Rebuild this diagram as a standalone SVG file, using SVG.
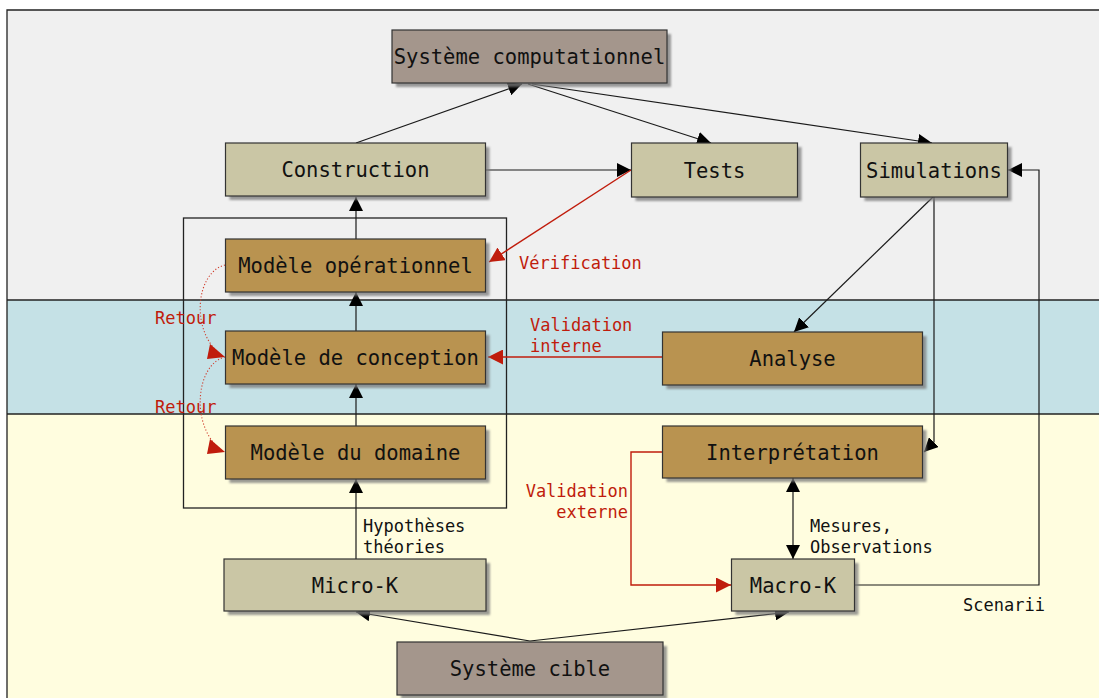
<svg xmlns="http://www.w3.org/2000/svg" width="1099" height="698" viewBox="0 0 1099 698">
  <defs>
    <marker id="ah" viewBox="0 0 12 12" refX="12" refY="6" markerWidth="14" markerHeight="14" markerUnits="userSpaceOnUse" orient="auto">
      <path d="M0,0 L12,6 L0,12 z" fill="#000"/>
    </marker>
    <marker id="ahs" viewBox="0 0 12 12" refX="0" refY="6" markerWidth="14" markerHeight="14" markerUnits="userSpaceOnUse" orient="auto">
      <path d="M12,0 L0,6 L12,12 z" fill="#000"/>
    </marker>
    <marker id="ar" viewBox="0 0 12 12" refX="12" refY="6" markerWidth="15" markerHeight="15" markerUnits="userSpaceOnUse" orient="auto">
      <path d="M0,0 L12,6 L0,12 z" fill="#c01c0c"/>
    </marker>
    <filter id="sh" x="-10%" y="-10%" width="130%" height="140%">
      <feGaussianBlur stdDeviation="0.8"/>
    </filter>
  </defs>
  <style>
    .band { stroke: none; }
    .box { stroke: #333; stroke-width: 1.2; }
    .shadow { fill: #7a7a7a; opacity: 0.75; filter: url(#sh); }
    .tan { fill: #cac6a5; }
    .brown { fill: #b99350; }
    .grey { fill: #a4968c; }
    .label { font-family: "DejaVu Sans Mono", "Liberation Mono", monospace; font-size: 20.5px; fill: #111; text-anchor: middle; }
    .note { font-family: "DejaVu Sans Mono", "Liberation Mono", monospace; font-size: 17px; fill: #111; }
    .red { fill: #c01c0c; }
    .edge { fill: none; stroke: #1a1a1a; stroke-width: 1.2; }
    .redge { fill: none; stroke: #c01c0c; stroke-width: 1.4; }
    .dot { fill: none; stroke: #d04030; stroke-width: 1.1; stroke-dasharray: 1.2 2; }
  </style>

  <!-- page -->
  <rect width="1099" height="698" fill="#ffffff"/>

  <!-- swimlane bands -->
  <rect class="band" x="7" y="10" width="1092" height="290" fill="#f0f0f0"/>
  <rect class="band" x="7" y="300" width="1092" height="114" fill="#c5e1e6"/>
  <rect class="band" x="7" y="414" width="1092" height="284" fill="#fffddf"/>
  <g stroke="#222" stroke-width="1.3" fill="none">
    <path d="M7,698 V10 H1099"/>
    <line x1="7" y1="300" x2="1099" y2="300"/>
    <line x1="7" y1="414" x2="1099" y2="414"/>
  </g>

  <!-- grouping frame around the three models -->
  <rect x="183.5" y="218" width="323" height="290" fill="none" stroke="#222" stroke-width="1.3"/>

  <!-- connectors -->
  <g id="connectors">
    <line class="edge" x1="356" y1="143" x2="522" y2="84" marker-end="url(#ah)"/>
    <line class="edge" x1="528" y1="84" x2="711" y2="143" marker-end="url(#ah)"/>
    <line class="edge" x1="532" y1="84" x2="932" y2="143" marker-end="url(#ah)"/>
    <line class="edge" x1="486" y1="170" x2="631" y2="170" marker-end="url(#ah)"/>
    <line class="redge" x1="631" y1="170" x2="489" y2="262" marker-end="url(#ar)"/>
    <line class="edge" x1="356" y1="239" x2="356" y2="197" marker-end="url(#ah)"/>
    <line class="edge" x1="356" y1="331" x2="356" y2="292" marker-end="url(#ah)"/>
    <line class="edge" x1="356" y1="426" x2="356" y2="384" marker-end="url(#ah)"/>
    <line class="edge" x1="356" y1="559" x2="356" y2="479" marker-end="url(#ah)"/>
    <line class="edge" x1="933" y1="197" x2="794" y2="332" marker-end="url(#ah)"/>
    <path class="edge" d="M934,197 V442 L924,452" marker-end="url(#ah)"/>
    <line class="redge" x1="662" y1="357" x2="488" y2="357" marker-end="url(#ar)"/>
    <line class="edge" x1="793" y1="478" x2="793" y2="559" marker-start="url(#ahs)" marker-end="url(#ah)"/>
    <path class="redge" d="M662,452 H631 V585 H731" marker-end="url(#ar)"/>
    <path class="edge" d="M855,585 H1039 V170 H1008" marker-end="url(#ah)"/>
    <line class="edge" x1="530" y1="641" x2="356" y2="612" marker-end="url(#ah)"/>
    <line class="edge" x1="530" y1="641" x2="789" y2="612" marker-end="url(#ah)"/>
    <path class="dot" d="M225,265 C196,272 190,330 220,354"/>
    <path d="M210,344 L225,357 L207,359 z" class="red"/>
    <path class="dot" d="M225,357 C196,364 190,425 220,449"/>
    <path d="M210,439 L225,452 L207,454 z" class="red"/>
  </g>

  <!-- connector labels -->
  <g id="edge-labels">
    <text class="note red" x="519" y="269">Vérification</text>
    <text class="note red" x="155" y="324">Retour</text>
    <text class="note red" x="155" y="413">Retour</text>
    <text class="note red" x="530" y="331">Validation</text>
    <text class="note red" x="530" y="352">interne</text>
    <text class="note red" x="628" y="497" text-anchor="end">Validation</text>
    <text class="note red" x="628" y="518" text-anchor="end">externe</text>
    <text class="note" x="363" y="532">Hypothèses</text>
    <text class="note" x="363" y="553">théories</text>
    <text class="note" x="810" y="532">Mesures,</text>
    <text class="note" x="810" y="553">Observations</text>
    <text class="note" x="963" y="611">Scenarii</text>
  </g>

  <!-- nodes -->
  <g id="systeme-computationnel">
    <rect class="shadow" x="396" y="34" width="275" height="53"/>
    <rect class="box grey" x="392" y="30" width="275" height="53"/>
    <text class="label" x="529.5" y="64">Système computationnel</text>
  </g>
  <g id="construction">
    <rect class="shadow" x="229.5" y="147" width="260" height="53"/>
    <rect class="box tan" x="225.5" y="143" width="260" height="53"/>
    <text class="label" x="355.5" y="177">Construction</text>
  </g>
  <g id="tests">
    <rect class="shadow" x="635.5" y="147" width="166" height="54"/>
    <rect class="box tan" x="631.5" y="143" width="166" height="54"/>
    <text class="label" x="714.5" y="177.5">Tests</text>
  </g>
  <g id="simulations">
    <rect class="shadow" x="864.5" y="147" width="147" height="54"/>
    <rect class="box tan" x="860.5" y="143" width="147" height="54"/>
    <text class="label" x="934" y="177.5">Simulations</text>
  </g>
  <g id="modele-operationnel">
    <rect class="shadow" x="229.5" y="243" width="260" height="53"/>
    <rect class="box brown" x="225.5" y="239" width="260" height="53"/>
    <text class="label" x="355.5" y="273">Modèle opérationnel</text>
  </g>
  <g id="modele-conception">
    <rect class="shadow" x="229.5" y="335" width="260" height="53"/>
    <rect class="box brown" x="225.5" y="331" width="260" height="53"/>
    <text class="label" x="355.5" y="365">Modèle de conception</text>
  </g>
  <g id="modele-domaine">
    <rect class="shadow" x="229.5" y="430" width="260" height="53"/>
    <rect class="box brown" x="225.5" y="426" width="260" height="53"/>
    <text class="label" x="355.5" y="460">Modèle du domaine</text>
  </g>
  <g id="analyse">
    <rect class="shadow" x="666.5" y="336" width="260" height="53"/>
    <rect class="box brown" x="662.5" y="332" width="260" height="53"/>
    <text class="label" x="792.5" y="366">Analyse</text>
  </g>
  <g id="interpretation">
    <rect class="shadow" x="666.5" y="430" width="260" height="52"/>
    <rect class="box brown" x="662.5" y="426" width="260" height="52"/>
    <text class="label" x="792.5" y="459.5">Interprétation</text>
  </g>
  <g id="micro-k">
    <rect class="shadow" x="228" y="563" width="262" height="52"/>
    <rect class="box tan" x="224" y="559" width="262" height="52"/>
    <text class="label" x="355" y="592.5">Micro-K</text>
  </g>
  <g id="macro-k">
    <rect class="shadow" x="735.5" y="563" width="123" height="52"/>
    <rect class="box tan" x="731.5" y="559" width="123" height="52"/>
    <text class="label" x="793" y="592.5">Macro-K</text>
  </g>
  <g id="systeme-cible">
    <rect class="shadow" x="401" y="646" width="266" height="53"/>
    <rect class="box grey" x="397" y="642" width="266" height="53"/>
    <text class="label" x="530" y="676">Système cible</text>
  </g>
</svg>
